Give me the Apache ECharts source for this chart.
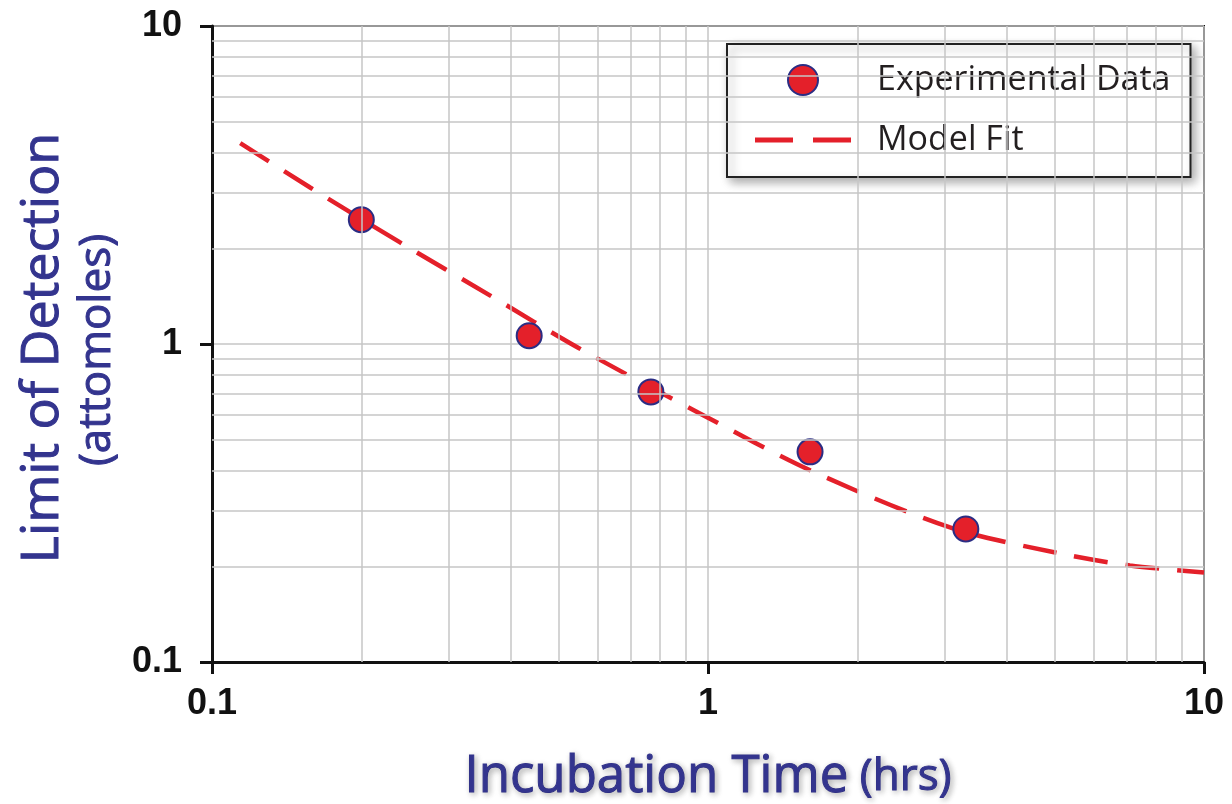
<!DOCTYPE html>
<html>
<head>
<meta charset="utf-8">
<script src="https://cdn.jsdelivr.net/npm/echarts@6/dist/echarts.min.js"></script>
<style>
  html, body { margin: 0; padding: 0; background: #fff; }
  #chart { width: 1232px; height: 804px; }
</style>
</head>
<body>
<div id="chart"></div>
<script>
// experimental points (hrs, attomoles)
var expTime = [0.2, 0.436, 0.767, 1.606, 3.31];
var expLod = [2.46, 1.062, 0.707, 0.458, 0.262];

// model fit curve
var fitTime = [0.114, 0.158, 0.239, 0.364, 0.545, 0.963, 1.606, 3.076, 5.12, 7.09, 10];
var fitLod = [4.28, 3.1, 2.09, 1.42, 0.977, 0.605, 0.401, 0.265, 0.2195, 0.2012, 0.1912];

// minor grid positions
var xMinor = [0.2, 0.3, 0.4, 0.5, 0.6, 0.7, 0.8, 0.9, 2, 3, 4, 5, 6, 7, 8, 9];
var yMinor = [0.2, 0.3, 0.4, 0.5, 0.6, 0.7, 0.8, 0.9, 2, 3, 4, 5, 6, 7, 8, 9];

var titleColor = '#33348e';
var gridGray = '#c6c6c6';
var red = '#e4202a';
var shadow = {
  textShadowColor: 'rgba(0,0,0,0.3)', textShadowBlur: 6, textShadowOffsetX: 2, textShadowOffsetY: 2,
  textBorderColor: titleColor, textBorderWidth: 1
};

function pairs(xs, ys) {
  return xs.map(function(x, i) { return [x, ys[i]]; });
}

var chart = echarts.init(document.getElementById('chart'), null, { renderer: 'canvas' });

var gridLines = xMinor.map(function(v) { return { xAxis: v }; })
  .concat(yMinor.map(function(v) { return { yAxis: v }; }));

chart.setOption({
  animation: false,
  grid: {
    left: 212, right: 28, top: 26, bottom: 142, containLabel: false, outerBoundsMode: 'none',
    show: true, borderColor: '#111', borderWidth: 2, backgroundColor: 'transparent'
  },
  legend: {
    data: [
      { name: 'Experimental Data', icon: 'circle' },
      { name: 'Model Fit', icon: 'path://M0,0H38V5H0Z M58,0H96V5H58Z' }
    ],
    orient: 'vertical', left: 727, top: 44,
    padding: [19, 20, 20, 28], itemGap: 26, itemWidth: 96, itemHeight: 30,
    borderColor: '#222', borderWidth: 2, backgroundColor: '#fff',
    shadowBlur: 10, shadowColor: 'rgba(0,0,0,0.35)', shadowOffsetX: 4, shadowOffsetY: 4,
    selectedMode: false,
    textStyle: { fontFamily: 'Open Sans', fontSize: 34, color: '#231f20', padding: [0, 0, 0, 21] }
  },
  xAxis: {
    type: 'log', logBase: 10, min: 0.1, max: 10,
    axisLine: { show: true, lineStyle: { color: '#111', width: 3 } },
    axisTick: { show: true, inside: false, length: 12, lineStyle: { color: '#111', width: 3 } },
    axisLabel: { color: '#111', fontFamily: 'Liberation Sans', fontWeight: 'bold', fontSize: 36, margin: 24 },
    splitLine: { show: true, lineStyle: { color: gridGray, width: 1.5 } },
    name: '{a|Incubation Time}{b| (hrs)}', nameLocation: 'middle', nameGap: 90,
    nameTextStyle: {
      rich: {
        a: Object.assign({ fontFamily: 'Open Sans', fontSize: 51, color: titleColor }, shadow),
        b: Object.assign({ fontFamily: 'Open Sans', fontSize: 44, color: titleColor }, shadow)
      }
    }
  },
  yAxis: {
    type: 'log', logBase: 10, min: 0.1, max: 10,
    axisLine: { show: true, lineStyle: { color: '#111', width: 3 } },
    axisTick: { show: true, inside: false, length: 12, lineStyle: { color: '#111', width: 3 } },
    axisLabel: { color: '#111', fontFamily: 'Liberation Sans', fontWeight: 'bold', fontSize: 36, margin: 30 },
    splitLine: { show: true, lineStyle: { color: gridGray, width: 1.5 } }
  },
  graphic: [
    {
      type: 'text', x: 43, y: 348, rotation: Math.PI / 2, silent: true,
      style: {
        text: 'Limit of Detection', fontFamily: 'Open Sans', fontSize: 52, fill: titleColor,
        stroke: titleColor, lineWidth: 1,
        align: 'center', verticalAlign: 'middle',
        shadowColor: 'rgba(0,0,0,0.3)', shadowBlur: 6, shadowOffsetX: 2, shadowOffsetY: 2
      }
    },
    {
      type: 'text', x: 97, y: 350, rotation: Math.PI / 2, silent: true,
      style: {
        text: '(attomoles)', fontFamily: 'Open Sans', fontSize: 44, fill: titleColor,
        stroke: titleColor, lineWidth: 1,
        align: 'center', verticalAlign: 'middle',
        shadowColor: 'rgba(0,0,0,0.3)', shadowBlur: 6, shadowOffsetX: 2, shadowOffsetY: 2
      }
    }
  ],
  series: [
    {
      type: 'line', data: pairs(expTime, expLod), z: 1, silent: true,
      showSymbol: false, lineStyle: { opacity: 0 },
      markLine: {
        silent: true, symbol: ['none', 'none'], label: { show: false },
        lineStyle: { color: gridGray, width: 1.5, type: 'solid' },
        emphasis: { disabled: true },
        data: gridLines
      }
    },
    {
      name: 'Model Fit', type: 'line', data: pairs(fitTime, fitLod), z: 3,
      smooth: 0.3, showSymbol: false, symbol: 'none',
      lineStyle: { color: red, width: 4.5, type: [34, 18] },
      itemStyle: { color: red }
    },
    {
      name: 'Experimental Data', type: 'scatter', data: pairs(expTime, expLod), z: 4,
      symbol: 'circle', symbolSize: 25,
      itemStyle: { color: red, borderColor: '#2b2d84', borderWidth: 2, opacity: 1 }
    }
  ]
});
</script>
</body>
</html>
